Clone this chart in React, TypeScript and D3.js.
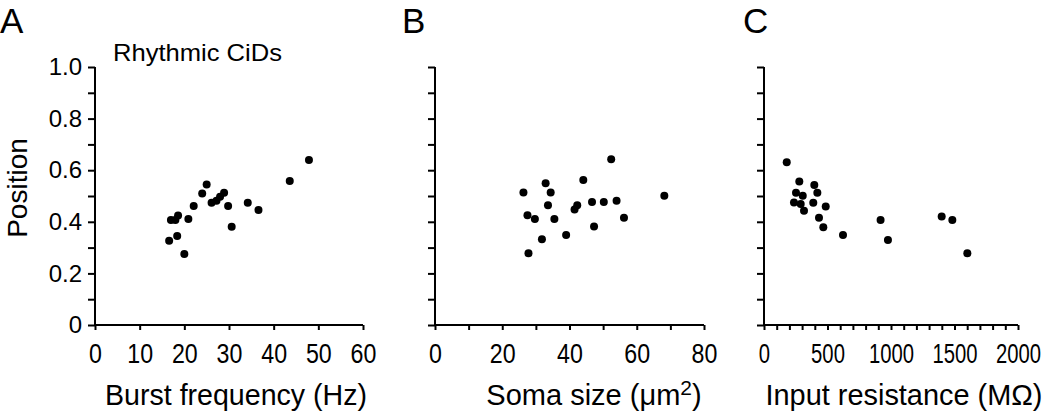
import React, { useEffect, useRef } from 'react';
import * as d3 from 'd3';

// values
const burstFreq = [16.6, 17.0, 18.0, 18.6, 18.4, 20.0, 20.9, 22.1, 24.0, 25.0, 26.1, 27.2, 28.0, 28.9, 29.8, 30.6, 34.2, 36.6, 43.6, 47.9];
const burstPos = [0.327, 0.407, 0.407, 0.424, 0.345, 0.275, 0.411, 0.461, 0.51, 0.545, 0.474, 0.482, 0.497, 0.513, 0.461, 0.381, 0.474, 0.446, 0.558, 0.64];

const somaSize = [26.3, 27.5, 27.8, 29.7, 31.8, 32.9, 33.6, 34.4, 35.5, 39.0, 41.5, 42.3, 44.1, 46.7, 47.3, 50.2, 52.4, 54.0, 56.2, 68.2];
const somaPos = [0.514, 0.425, 0.278, 0.411, 0.332, 0.549, 0.464, 0.514, 0.411, 0.349, 0.448, 0.464, 0.562, 0.477, 0.382, 0.477, 0.642, 0.482, 0.416, 0.501];

const inputRes = [179, 278, 396, 420, 252, 305, 236, 289, 315, 388, 486, 433, 467, 622, 918, 976, 1399, 1483, 1601];
const inputPos = [0.631, 0.556, 0.543, 0.513, 0.513, 0.501, 0.475, 0.469, 0.443, 0.474, 0.459, 0.416, 0.379, 0.349, 0.407, 0.329, 0.421, 0.407, 0.278];

const yTicks = [0, 0.1, 0.2, 0.3, 0.4, 0.5, 0.6, 0.7, 0.8, 0.9, 1.0];
const yTickLabels: Record<string, string> = { '0': '0', '0.2': '0.2', '0.4': '0.4', '0.6': '0.6', '0.8': '0.8', '1': '1.0' };

const panels = [
  { letter: 'A', xs: burstFreq, ys: burstPos, domain: [0, 60], range: [95, 363], ticks: [0, 10, 20, 30, 40, 50, 60], labels: [0, 10, 20, 30, 40, 50, 60], squeeze: 0.86, title: 'Burst frequency (Hz)', titleX: 236, titleLen: 262, sup: '', letterX: 0, yLabels: true },
  { letter: 'B', xs: somaSize, ys: somaPos, domain: [0, 80], range: [435, 704], ticks: d3.range(0, 81, 10), labels: [0, 20, 40, 60, 80], squeeze: 0.86, title: 'Soma size (\u03bcm', titleX: 594, titleLen: 0, sup: '2', letterX: 402, yLabels: false },
  { letter: 'C', xs: inputRes, ys: inputPos, domain: [0, 2000], range: [764, 1018], ticks: d3.range(0, 2001, 100), labels: [0, 500, 1000, 1500, 2000], squeeze: 0.75, title: 'Input resistance (M\u03a9)', titleX: 904, titleLen: 277, sup: '', letterX: 743, yLabels: false },
];

const FONT = 'Liberation Sans, Arial, sans-serif';

export default function App() {
  const ref = useRef<SVGSVGElement>(null);

  useEffect(() => {
    const svg = d3.select(ref.current);
    svg.selectAll('*').remove();

    const y = d3.scaleLinear().domain([0, 1]).range([325, 67]);

    panels.forEach(p => {
      const x = d3.scaleLinear().domain(p.domain).range(p.range);
      const g = svg.append('g');
      const x0 = p.range[0];

      // y axis
      const yAxis = d3.axisLeft(y).tickValues(yTicks).tickSize(7)
        .tickFormat(d => (p.yLabels ? (yTickLabels[String(+(+d).toFixed(1))] ?? '') : ''));
      const ga = g.append('g').attr('transform', `translate(${x0},0)`).call(yAxis);
      ga.select('.domain').attr('d', `M0,${y(1)}V${y(0)}`).attr('stroke-width', 2);
      ga.selectAll('.tick line').attr('stroke-width', 2);
      ga.selectAll('.tick text').attr('font-family', FONT).attr('font-size', 24).attr('fill', '#000').attr('x', -13);

      // x axis
      const xAxis = d3.axisBottom(x).tickValues(p.ticks).tickSize(5)
        .tickFormat(d => p.labels.includes(+d) ? String(d) : '');
      const gx = g.append('g').attr('transform', `translate(0,${y(0)})`).call(xAxis);
      gx.select('.domain').attr('d', `M${p.range[0]},0H${p.range[1]}`).attr('stroke-width', 2);
      gx.selectAll('.tick line').attr('stroke-width', 2);
      gx.selectAll('.tick text')
        .attr('font-family', FONT).attr('font-size', 27).attr('fill', '#000')
        .attr('y', 38).attr('dy', 0)
        .attr('transform', `scale(${p.squeeze},1)`);

      // points
      g.append('g').selectAll('circle')
        .data(p.xs.map((v, i) => [v, p.ys[i]]))
        .join('circle')
        .attr('cx', d => x(d[0]))
        .attr('cy', d => y(d[1]))
        .attr('r', 4)
        .attr('fill', '#000');

      // x title
      const t = g.append('text')
        .attr('x', p.titleX)
        .attr('y', 405)
        .attr('text-anchor', 'middle')
        .attr('font-family', FONT)
        .attr('font-size', 29)
        .text(p.title);
      if (p.titleLen) t.attr('textLength', p.titleLen).attr('lengthAdjust', 'spacingAndGlyphs');
      if (p.sup) {
        t.append('tspan').attr('dy', -10).attr('font-size', 21).text(p.sup);
        t.append('tspan').attr('dy', 10).text(')');
      }

      // panel letter
      g.append('text')
        .attr('x', p.letterX)
        .attr('y', 33)
        .attr('font-family', FONT)
        .attr('font-size', 35)
        .text(p.letter);
    });

    svg.append('text')
      .attr('x', 113)
      .attr('y', 61)
      .attr('font-family', FONT)
      .attr('font-size', 24)
      .attr('textLength', 169)
      .attr('lengthAdjust', 'spacingAndGlyphs')
      .text('Rhythmic CiDs');

    svg.append('text')
      .attr('transform', `translate(27,188) rotate(-90)`)
      .attr('text-anchor', 'middle')
      .attr('font-family', FONT)
      .attr('font-size', 28)
      .text('Position');
  }, []);

  return (
    <svg ref={ref} width={1050} height={417}
      style={{ position: 'absolute', left: 0, top: 0, background: '#fff' }} />
  );
}
